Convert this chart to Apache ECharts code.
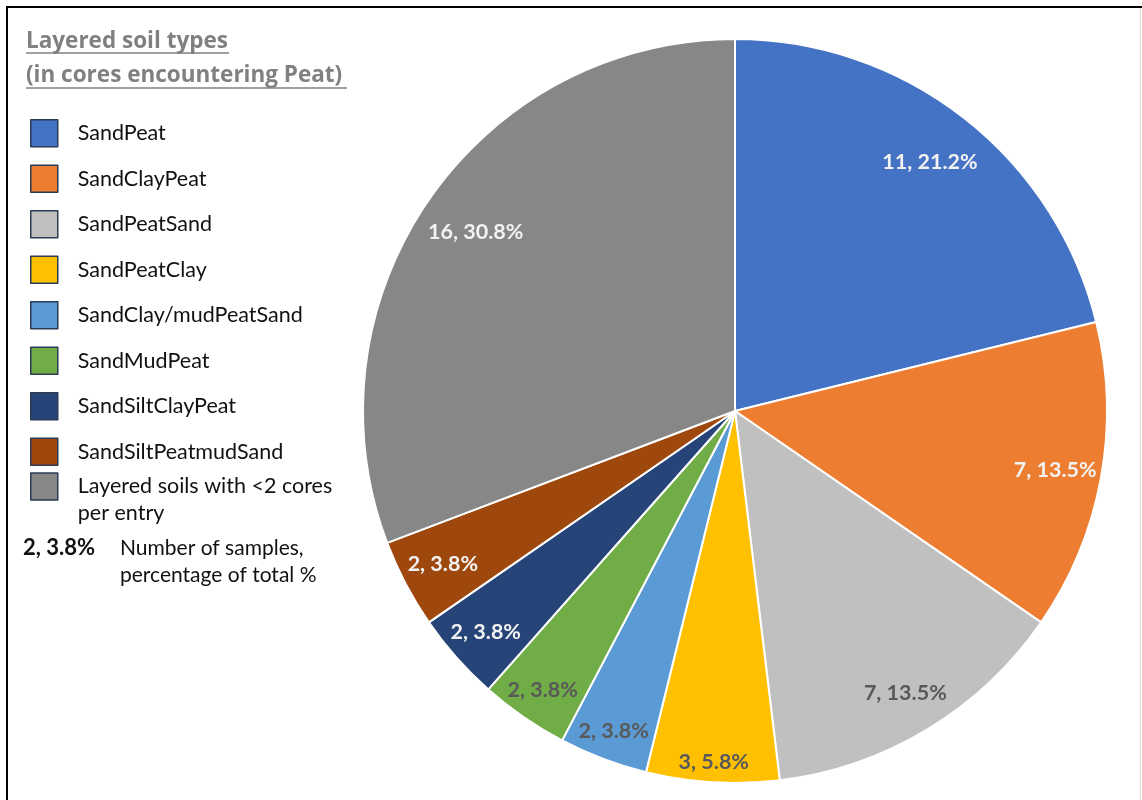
<!DOCTYPE html>
<html>
<head>
<meta charset="utf-8">
<script src="https://cdn.jsdelivr.net/npm/echarts@6/dist/echarts.min.js"></script>
<style>
  html, body { margin: 0; padding: 0; background: #fff; }
  #chart { width: 1142px; height: 800px; }
</style>
</head>
<body>
<div id="chart"></div>
<script>
// 土层类型
const categories = [
  "SandPeat",
  "SandClayPeat",
  "SandPeatSand",
  "SandPeatClay",
  "SandClay/mudPeatSand",
  "SandMudPeat",
  "SandSiltClayPeat",
  "SandSiltPeatmudSand",
  "Layered soils with <2 cores per entry",
];
// 样本数
const counts = [11, 7, 7, 3, 2, 2, 2, 2, 16];
const colors = ["#4472C4", "#ED7D31", "#BFC0BF", "#FFC000", "#5B9BD5", "#70AD47", "#264478", "#9E480E", "#878787"];
const labelColors = ["#F2F2F2", "#F2F2F2", "#595959", "#595959", "#595959", "#595959", "#F2F2F2", "#F2F2F2", "#F2F2F2"];
// 标签离圆心的距离(半径比例)
const labelDist = [0.85, 0.875, 0.885, 0.945, 0.92, 0.91, 0.895, 0.887, 0.847];

const font = "Lato";
const cx = 735, cy = 411, R = 372;
const total = counts.reduce((a, b) => a + b, 0);
const chart = echarts.init(document.getElementById("chart"));

const pieData = categories.map((name, i) => ({
  name: name,
  value: counts[i],
  itemStyle: { color: colors[i] },
  label: { color: labelColors[i] },
}));

const legendCommon = {
  orient: "vertical",
  left: 30,
  padding: 0,
  itemWidth: 27,
  itemHeight: 27,
  itemGap: 17,
  icon: "rect",
  itemStyle: { borderColor: "#2B3A55", borderWidth: 1.5 },
  textStyle: { fontSize: 21.5, color: "#111", fontFamily: font, lineHeight: 27, padding: [0, 0, 0, 15] },
};

chart.setOption({
  animation: false,
  textStyle: { fontFamily: font },
  legend: [
    Object.assign({}, legendCommon, {
      top: 119,
      data: categories.slice(0, 8),
    }),
    // 最后一项是两行文字，第一行要和色块对齐
    Object.assign({}, legendCommon, {
      top: 446,
      formatter: () => "\nLayered soils with <2 cores\nper entry",
      data: categories.slice(8),
    }),
  ],
  graphic: [
    // 外框
    { type: "line", shape: { x1: 6, y1: 7, x2: 1142, y2: 7 }, style: { stroke: "#000", lineWidth: 2 } },
    { type: "line", shape: { x1: 7, y1: 6, x2: 7, y2: 800 }, style: { stroke: "#000", lineWidth: 2 } },
    { type: "line", shape: { x1: 1140.5, y1: 8, x2: 1140.5, y2: 800 }, style: { stroke: "#D9D9D9", lineWidth: 1 } },
    // 标题
    {
      type: "text", x: 26, y: 42,
      style: { text: "Layered soil types", font: "bold 22.5px 'Open Sans'", fill: "#808080", verticalAlign: "middle" },
    },
    {
      type: "text", x: 26, y: 76,
      style: { text: "(in cores encountering Peat)", font: "bold 22.5px 'Open Sans'", fill: "#808080", verticalAlign: "middle" },
    },
    { type: "line", shape: { x1: 26, y1: 53, x2: 229, y2: 53 }, style: { stroke: "#808080", lineWidth: 1.5 } },
    { type: "line", shape: { x1: 26, y1: 88, x2: 347, y2: 88 }, style: { stroke: "#808080", lineWidth: 1.5 } },
    // 标签说明
    {
      type: "text", x: 23, y: 548,
      style: { text: "2, 3.8%", font: "bold 22px " + font, fill: "#111", verticalAlign: "middle" },
    },
    {
      type: "text", x: 120, y: 548,
      style: { text: "Number of samples,", font: "21px " + font, fill: "#111", verticalAlign: "middle" },
    },
    {
      type: "text", x: 120, y: 575,
      style: { text: "percentage of total %", font: "21px " + font, fill: "#111", verticalAlign: "middle" },
    },
  ],
  series: [
    {
      type: "pie",
      center: [cx, cy],
      radius: [0, R],
      startAngle: 90,
      clockwise: true,
      percentPrecision: 1,
      itemStyle: { borderColor: "#fff", borderWidth: 2 },
      emphasis: { disabled: true },
      label: {
        show: true,
        position: "inside",
        fontFamily: font,
        fontWeight: "bold",
        fontSize: 21.5,
        formatter: (p) => p.value + ", " + p.percent.toFixed(1) + "%",
      },
      labelLine: { show: false },
      labelLayout: (p) => {
        const i = p.dataIndex;
        let cum = 0;
        for (let k = 0; k < i; k++) cum += counts[k];
        const a = ((cum + counts[i] / 2) / total) * Math.PI * 2;
        const d = labelDist[i] * R;
        return { x: cx + d * Math.sin(a), y: cy - d * Math.cos(a), align: "center", verticalAlign: "middle" };
      },
      data: pieData,
    },
  ],
});
</script>
</body>
</html>
